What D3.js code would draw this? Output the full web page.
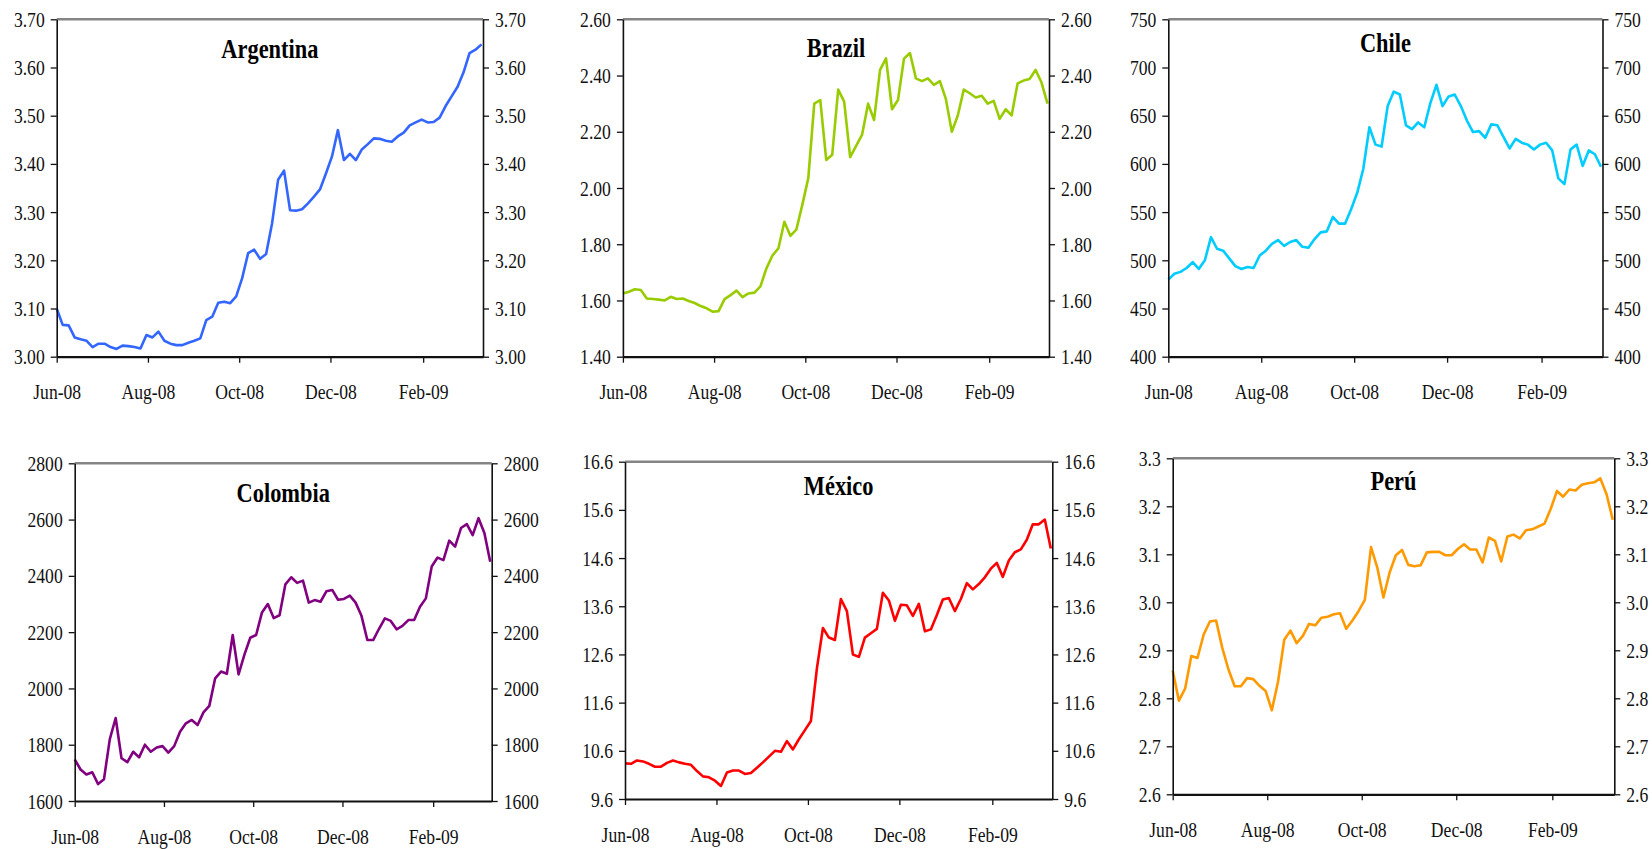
<!DOCTYPE html>
<html>
<head>
<meta charset="utf-8">
<script src="https://cdn.jsdelivr.net/npm/d3@7"></script>
<style>
  body { margin: 0; background: #fff; }
  svg { display: block; }
  .axis path, .axis line { stroke: #111; }
  .axis text { font-family: 'Liberation Serif', 'Times New Roman', serif; font-size: 22px; fill: #111; }
  .title { font-family: 'Liberation Serif', 'Times New Roman', serif; font-size: 28px; font-weight: bold; fill: #000; }
</style>
</head>
<body>
<div id="chart-container"></div>
<script>
var WIDTH = 1652
var HEIGHT = 849
var SQUEEZE = 0.8 // the original type is set narrow

// shared time axis: one reading every 4 days, Jun-08 to mid Mar-09
var START = new Date(2008, 5, 1)
var END = new Date(2009, 2, 13)
var dates = d3.timeDay.range(START, END, 4)
var tickDates = [new Date(2008, 5, 1), new Date(2008, 7, 1), new Date(2008, 9, 1), new Date(2008, 11, 1), new Date(2009, 1, 1)]

// exchange rates per USD
var argentina = [3.100, 3.066, 3.065, 3.040, 3.036, 3.033, 3.020, 3.027, 3.027, 3.020,
  3.016, 3.023, 3.022, 3.020, 3.017, 3.045, 3.040, 3.052, 3.033, 3.027,
  3.024, 3.024, 3.029, 3.033, 3.038, 3.076, 3.083, 3.112, 3.114, 3.111,
  3.125, 3.163, 3.215, 3.222, 3.203, 3.213, 3.277, 3.367, 3.386, 3.304,
  3.303, 3.306, 3.318, 3.332, 3.347, 3.380, 3.415, 3.470, 3.408, 3.421,
  3.408, 3.430, 3.441, 3.453, 3.452, 3.448, 3.446, 3.457, 3.465, 3.480,
  3.486, 3.492, 3.486, 3.487, 3.496, 3.520, 3.540, 3.560, 3.590, 3.630,
  3.637, 3.648]
var brazil = [1.625, 1.631, 1.640, 1.637, 1.607, 1.605, 1.603, 1.600, 1.613, 1.605,
  1.607, 1.598, 1.591, 1.580, 1.572, 1.560, 1.562, 1.605, 1.619, 1.635,
  1.612, 1.625, 1.628, 1.650, 1.714, 1.760, 1.785, 1.880, 1.830, 1.852,
  1.940, 2.035, 2.300, 2.313, 2.100, 2.118, 2.350, 2.307, 2.110, 2.150,
  2.190, 2.300, 2.242, 2.420, 2.461, 2.280, 2.313, 2.460, 2.480, 2.390,
  2.380, 2.390, 2.367, 2.380, 2.317, 2.200, 2.258, 2.350, 2.337, 2.322,
  2.328, 2.300, 2.310, 2.246, 2.280, 2.258, 2.372, 2.382, 2.388, 2.420,
  2.375, 2.300]
var chile = [480, 486, 488, 492, 498, 491, 500, 524, 512, 510,
  502, 494, 491, 493, 492, 505, 510, 517, 521, 515,
  519, 521, 514, 513, 522, 529, 530, 545, 538, 538,
  553, 570, 595, 638, 620, 618, 660, 675, 672, 640,
  636, 643, 638, 663, 682, 660, 670, 672, 660, 645,
  633, 634, 627, 641, 640, 628, 616, 626, 622, 620,
  615, 620, 622, 614, 585, 579, 615, 620, 598, 614,
  610, 597]
var colombia = [1748, 1712, 1694, 1702, 1660, 1677, 1820, 1895, 1752, 1738,
  1775, 1755, 1800, 1775, 1790, 1795, 1772, 1795, 1846, 1876,
  1888, 1870, 1915, 1938, 2036, 2060, 2052, 2190, 2050, 2120,
  2180, 2190, 2270, 2300, 2250, 2260, 2370, 2395, 2375, 2383,
  2305, 2314, 2308, 2345, 2350, 2315, 2318, 2330, 2305, 2258,
  2172, 2172, 2212, 2249, 2240, 2210, 2222, 2243, 2243, 2290,
  2320, 2433, 2465, 2456, 2525, 2504, 2570, 2584, 2545, 2605,
  2552, 2450]
var mexico = [10.34, 10.33, 10.40, 10.38, 10.33, 10.27, 10.27, 10.35, 10.40, 10.36,
  10.33, 10.31, 10.18, 10.07, 10.05, 9.98, 9.87, 10.15, 10.19, 10.19,
  10.12, 10.14, 10.25, 10.36, 10.48, 10.60, 10.58, 10.80, 10.63, 10.84,
  11.03, 11.22, 12.31, 13.15, 12.95, 12.90, 13.75, 13.50, 12.60, 12.55,
  12.95, 13.04, 13.13, 13.88, 13.72, 13.30, 13.63, 13.62, 13.40, 13.65,
  13.08, 13.12, 13.42, 13.74, 13.77, 13.50, 13.75, 14.08, 13.95, 14.06,
  14.20, 14.38, 14.50, 14.21, 14.55, 14.72, 14.78, 14.98, 15.30, 15.30,
  15.40, 14.80]
var peru = [2.858, 2.795, 2.820, 2.888, 2.884, 2.933, 2.960, 2.962, 2.905, 2.860,
  2.825, 2.825, 2.842, 2.840, 2.826, 2.815, 2.775, 2.835, 2.922, 2.941,
  2.915, 2.930, 2.955, 2.952, 2.968, 2.970, 2.975, 2.977, 2.945, 2.962,
  2.982, 3.005, 3.115, 3.073, 3.010, 3.062, 3.098, 3.109, 3.078, 3.075,
  3.077, 3.104, 3.105, 3.105, 3.098, 3.098, 3.111, 3.121, 3.110, 3.110,
  3.083, 3.135, 3.128, 3.085, 3.137, 3.141, 3.133, 3.150, 3.152, 3.158,
  3.164, 3.195, 3.232, 3.220, 3.235, 3.233, 3.245, 3.248, 3.250, 3.258,
  3.225, 3.172]

// y tick values per panel
var argentinaTicks = [3.0, 3.1, 3.2, 3.3, 3.4, 3.5, 3.6, 3.7]
var brazilTicks = [1.4, 1.6, 1.8, 2.0, 2.2, 2.4, 2.6]
var chileTicks = [400, 450, 500, 550, 600, 650, 700, 750]
var colombiaTicks = [1600, 1800, 2000, 2200, 2400, 2600, 2800]
var mexicoTicks = [9.6, 10.6, 11.6, 12.6, 13.6, 14.6, 15.6, 16.6]
var peruTicks = [2.6, 2.7, 2.8, 2.9, 3.0, 3.1, 3.2, 3.3]

var panels = [
  {name: 'Argentina', values: argentina, ticks: argentinaTicks, fmt: '.2f', color: '#3366ff',
    left: 56.7, right: 483, top: 19.3, bottom: 356.7, titleDy: 39},
  {name: 'Brazil', values: brazil, ticks: brazilTicks, fmt: '.2f', color: '#99cc00',
    left: 622.9, right: 1049, top: 19.3, bottom: 356.7, titleDy: 37.5},
  {name: 'Chile', values: chile, ticks: chileTicks, fmt: 'd', color: '#00ccff',
    left: 1168.3, right: 1602.5, top: 19.3, bottom: 356.7, titleDy: 33},
  {name: 'Colombia', values: colombia, ticks: colombiaTicks, fmt: 'd', color: '#800080',
    left: 74.7, right: 491.7, top: 463.3, bottom: 801, titleDy: 38.5},
  {name: 'México', values: mexico, ticks: mexicoTicks, fmt: '.1f', color: '#ff0000',
    left: 625, right: 1052.3, top: 461.7, bottom: 799, titleDy: 33.5},
  {name: 'Perú', values: peru, ticks: peruTicks, fmt: '.1f', color: '#ff9900',
    left: 1172.7, right: 1614.3, top: 458.3, bottom: 794.3, titleDy: 32}
]

var svg = d3.select('#chart-container')
  .append('svg')
  .attr('width', WIDTH)
  .attr('height', HEIGHT)

// narrow the glyphs without moving the anchor point
function squeeze(axisGroup) {
  axisGroup.selectAll('text').each(function() {
    var t = d3.select(this)
    var x = t.attr('x')
    if (x !== null) t.attr('x', +x / SQUEEZE)
    t.attr('transform', 'scale(' + SQUEEZE + ',1)')
  })
}

panels.forEach(function(p) {
  var xScale = d3.scaleTime()
    .domain([START, END])
    .range([p.left, p.right])
  var yScale = d3.scaleLinear()
    .domain(d3.extent(p.ticks))
    .range([p.bottom, p.top])

  var series = dates.map(function(date, i) {
    return {date: date, value: p.values[i]}
  })

  var g = svg.append('g').attr('class', 'panel')

  // grey frame along the top
  g.append('line')
    .attr('x1', p.left).attr('x2', p.right)
    .attr('y1', p.top).attr('y2', p.top)
    .attr('stroke', '#858585')
    .attr('stroke-width', 2.5)

  // line
  var lineGenerator = d3.line()
    .x(function(d) { return xScale(d.date) })
    .y(function(d) { return yScale(d.value) })
  g.append('path')
    .datum(series)
    .attr('fill', 'none')
    .attr('stroke', p.color)
    .attr('stroke-width', 2.6)
    .attr('stroke-linejoin', 'round')
    .attr('d', lineGenerator)

  /* y axes, both sides */
  var leftAxis = g.append('g')
    .attr('class', 'axis axis--y')
    .attr('transform', 'translate(' + p.left + ',0)')
    .call(d3.axisLeft(yScale).tickValues(p.ticks).tickFormat(d3.format(p.fmt))
      .tickSize(6).tickPadding(6).tickSizeOuter(0))
  var rightAxis = g.append('g')
    .attr('class', 'axis axis--y')
    .attr('transform', 'translate(' + p.right + ',0)')
    .call(d3.axisRight(yScale).tickValues(p.ticks).tickFormat(d3.format(p.fmt))
      .tickSize(6).tickPadding(6).tickSizeOuter(0))

  /* x axis */
  var bottomAxis = g.append('g')
    .attr('class', 'axis axis--x')
    .attr('transform', 'translate(0,' + p.bottom + ')')
    .call(d3.axisBottom(xScale).tickValues(tickDates).tickFormat(d3.timeFormat('%b-%y'))
      .tickSize(6).tickSizeOuter(0))
  bottomAxis.selectAll('text').attr('y', 27)
  bottomAxis.select('.domain').attr('stroke-width', 2.2)

  ;[leftAxis, rightAxis, bottomAxis].forEach(function(a) {
    a.attr('font-size', null).attr('font-family', null)
    a.selectAll('line').attr('stroke-width', 1.3)
    squeeze(a)
  })
  leftAxis.select('.domain').attr('stroke-width', 1.6)
  rightAxis.select('.domain').attr('stroke-width', 1.6)

  // title
  g.append('text')
    .attr('class', 'title')
    .attr('text-anchor', 'middle')
    .attr('transform', 'translate(' + (p.left + p.right) / 2 + ',' + (p.top + p.titleDy) + ') scale(' + SQUEEZE + ',1)')
    .text(p.name)
})
</script>
</body>
</html>
